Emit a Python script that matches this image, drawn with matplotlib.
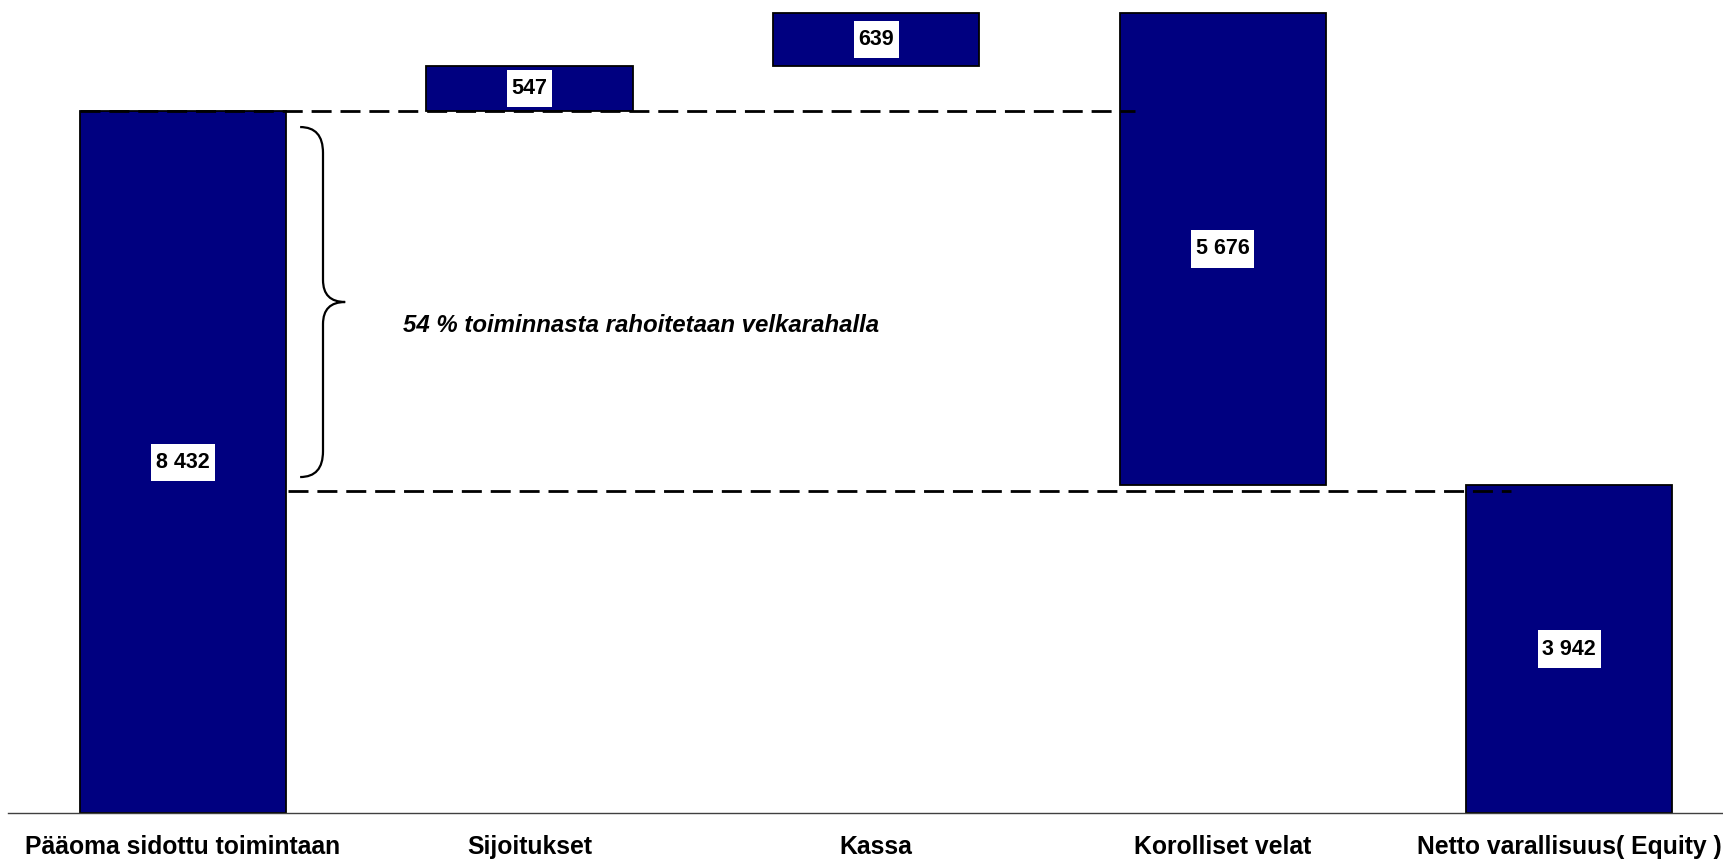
import matplotlib
matplotlib.use("Agg")
import matplotlib.pyplot as plt
from matplotlib.path import Path
from matplotlib.patches import PathPatch

plt.rcParams["font.family"] = ["Liberation Sans", "DejaVu Sans"]

# waterfall data
categories = ["Pääoma sidottu toimintaan", "Sijoitukset", "Kassa",
              "Korolliset velat", "Netto varallisuus( Equity )"]
values = [8432, 547, 639, 5676, 3942]
bottoms = [0, 8432, 8979, 3942, 0]
value_labels = ["8 432", "547", "639", "5 676", "3 942"]
note = "54 % toiminnasta rahoitetaan velkarahalla"

NAVY = "#000080"
BAR_W = 0.595


def label_box(x0, y0, width, height, mutation_size):
    # white box, narrow sideways and tall vertically like the original
    px = 0.22 * mutation_size
    py = 0.38 * mutation_size
    x1, y1 = x0 + width + px, y0 + height + py
    x0, y0 = x0 - px, y0 - py
    return Path([(x0, y0), (x1, y0), (x1, y1), (x0, y1), (x0, y0)],
                [Path.MOVETO, Path.LINETO, Path.LINETO, Path.LINETO, Path.CLOSEPOLY])


fig = plt.figure(figsize=(17.23, 8.60), dpi=100)
ax = fig.add_axes([8 / 1723, 47 / 860, 1 - 8 / 1723, 1 - 47 / 860])

x = list(range(len(categories)))
ax.bar(x, values, width=BAR_W, bottom=bottoms,
       color=NAVY, edgecolor="black", linewidth=1.3, zorder=2)

# dashed reference lines
dash = (0, (7.2, 3.2))
ax.plot([-BAR_W / 2, 2.748], [8432, 8432], color="black", lw=2, ls=dash, zorder=3)
ax.plot([0.303, 3.833], [3870, 3870], color="black", lw=2, ls=dash, zorder=3)

# value labels
for i, (b, v, t) in enumerate(zip(bottoms, values, value_labels)):
    ax.text(i, b + v / 2, t, ha="center", va="center", fontsize=15.5,
            fontweight="bold", color="black", zorder=4,
            bbox=dict(boxstyle=label_box, facecolor="white", edgecolor="none"))

# curly brace next to the first bar
bx0, bxm, bx1 = 0.338, 0.404, 0.468
b_top, b_mid, b_bot = 8245, 6142, 4038
r_end, r_tip = 310, 265
verts = [(bx0, b_top), (bxm, b_top), (bxm, b_top - r_end),
         (bxm, b_mid + r_tip),
         (bxm, b_mid), (bx1, b_mid),
         (bxm, b_mid), (bxm, b_mid - r_tip),
         (bxm, b_bot + r_end),
         (bxm, b_bot), (bx0, b_bot)]
codes = [Path.MOVETO, Path.CURVE3, Path.CURVE3,
         Path.LINETO,
         Path.CURVE3, Path.CURVE3,
         Path.CURVE3, Path.CURVE3,
         Path.LINETO,
         Path.CURVE3, Path.CURVE3]
ax.add_patch(PathPatch(Path(verts, codes), facecolor="none", edgecolor="black",
                       lw=1.6, zorder=3))

ax.text(0.635, 5865, note, ha="left", va="center", fontsize=17.3,
        fontweight="bold", fontstyle="italic")

ax.set_xlim(-0.505, 4.444)
ax.set_ylim(0, 9772)
ax.set_xticks(x)
ax.set_xticklabels(categories, fontsize=17.8, fontweight="bold")
ax.tick_params(axis="x", length=0, pad=16)
ax.set_yticks([])
for s in ["top", "right", "left"]:
    ax.spines[s].set_visible(False)
ax.spines["bottom"].set_color("#404040")
ax.spines["bottom"].set_linewidth(1)

fig.savefig("out.png", dpi=100)
